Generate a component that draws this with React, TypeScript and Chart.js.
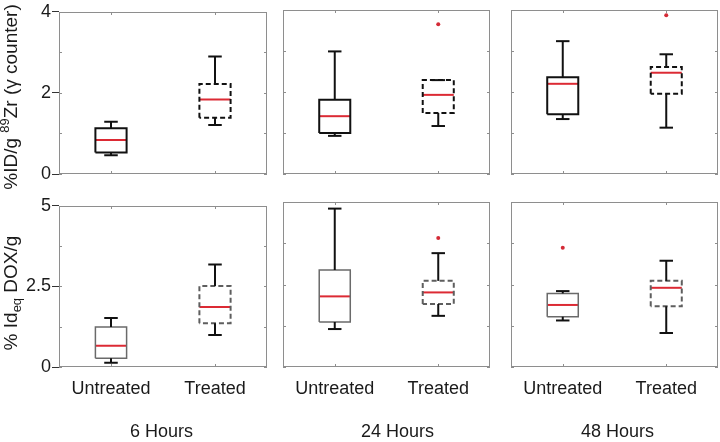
import React, { useEffect, useRef } from 'react';
import { Chart, registerables } from 'chart.js';
Chart.register(...registerables);

const categories = ['Untreated', 'Treated'];
const timepoints = ['6 Hours', '24 Hours', '48 Hours'];

// [lower whisker, Q1, median, Q3, upper whisker]
const zr6Untreated = [0.46, 0.53, 0.84, 1.13, 1.29];
const zr6Treated = [1.21, 1.39, 1.84, 2.22, 2.9];
const zr24Untreated = [0.93, 1.0, 1.41, 1.81, 2.99];
const zr24Treated = [1.17, 1.49, 1.93, 2.29, 2.29];
const zr48Untreated = [1.34, 1.46, 2.2, 2.36, 3.24];
const zr48Treated = [1.13, 1.96, 2.47, 2.61, 2.92];
const zr6Outliers: number[][] = [[], []];
const zr24Outliers: number[][] = [[], [3.65]];
const zr48Outliers: number[][] = [[], [3.87]];

const dox6Untreated = [0.13, 0.27, 0.66, 1.24, 1.52];
const dox6Treated = [0.99, 1.36, 1.86, 2.51, 3.18];
const dox24Untreated = [1.15, 1.36, 2.14, 2.94, 4.8];
const dox24Treated = [1.55, 1.91, 2.26, 2.61, 3.45];
const dox48Untreated = [1.41, 1.52, 1.88, 2.23, 2.3];
const dox48Treated = [1.03, 1.84, 2.4, 2.61, 3.22];
const dox6Outliers: number[][] = [[], []];
const dox24Outliers: number[][] = [[], [3.91]];
const dox48Outliers: number[][] = [[3.61], []];

const zrTicks = [0, 1, 2, 3, 4];
const zrTickLabels = ['0', '', '2', '', '4'];
const doxTicks = [0, 1.25, 2.5, 3.75, 5];
const doxTickLabels = ['0', '', '2.5', '', '5'];

const FONT = "'Liberation Sans', Arial, Helvetica, sans-serif";
const BOX = 0.15;
const CAP = 0.065;
const MEDIAN = '#dc2a34';

type Seg = { t: string; s: number; dy: number };

const rows = [
  {
    stats: [[zr6Untreated, zr6Treated], [zr24Untreated, zr24Treated], [zr48Untreated, zr48Treated]],
    outliers: [zr6Outliers, zr24Outliers, zr48Outliers],
    max: 4,
    ticks: zrTicks,
    labels: zrTickLabels,
    title: [
      { t: '%ID/g ', s: 19, dy: 0 },
      { t: '89', s: 13, dy: -7 },
      { t: 'Zr (γ counter)', s: 19, dy: 0 },
    ] as Seg[],
    titleY: 97,
    boxColors: ['#111111', '#111111'],
    boxWidths: [2, 2],
    canvasTop: 0,
    canvasH: 196,
    T: 10,
    B: 174,
  },
  {
    stats: [[dox6Untreated, dox6Treated], [dox24Untreated, dox24Treated], [dox48Untreated, dox48Treated]],
    outliers: [dox6Outliers, dox24Outliers, dox48Outliers],
    max: 5,
    ticks: doxTicks,
    labels: doxTickLabels,
    title: [
      { t: '% Id', s: 19, dy: 0 },
      { t: 'eq', s: 13, dy: 5 },
      { t: ' DOX/g', s: 19, dy: 0 },
    ] as Seg[],
    titleY: 293,
    boxColors: ['#6a6a6a', '#5e5e5e'],
    boxWidths: [1.5, 2],
    canvasTop: 194,
    canvasH: 248,
    T: 202,
    B: 367,
  },
];

const cols = [
  { L: 59, R: 267, dx: -1.5 },
  { L: 283, R: 490, dx: 11 },
  { L: 511, R: 718, dx: 3 },
];

function seg(data: { x: number; y: number }[], color: string, width: number, dash: number[] = []) {
  return {
    data,
    showLine: true,
    borderColor: color,
    borderWidth: width,
    borderDash: dash,
    pointRadius: 0,
    pointHoverRadius: 0,
    fill: false,
    tension: 0,
    borderJoinStyle: 'miter',
    borderCapStyle: 'butt',
  };
}

function boxDatasets(stats: number[], xi: number, color: string, width: number, dashed: boolean) {
  const [lo, q1, med, q3, hi] = stats;
  const x = xi + 1;
  const dash = dashed ? [5, 3] : [];
  return [
    seg([{ x, y: q3 }, { x, y: hi }], '#111111', 2),
    seg([{ x: x - CAP, y: hi }, { x: x + CAP, y: hi }], '#111111', 2),
    seg([{ x, y: q1 }, { x, y: lo }], '#111111', 2),
    seg([{ x: x - CAP, y: lo }, { x: x + CAP, y: lo }], '#111111', 2),
    seg(
      [
        { x: x - BOX, y: q1 },
        { x: x - BOX, y: q3 },
        { x: x + BOX, y: q3 },
        { x: x + BOX, y: q1 },
        { x: x - BOX, y: q1 },
      ],
      color,
      width,
      dash
    ),
    seg([{ x: x - BOX, y: med }, { x: x + BOX, y: med }], MEDIAN, 2),
  ];
}

const framePlugin = {
  id: 'frame',
  beforeDatasetsDraw(chart: any) {
    const { ctx, chartArea, scales } = chart;
    const left = Math.round(chartArea.left);
    const right = Math.round(chartArea.right);
    const top = Math.round(chartArea.top);
    const bottom = Math.round(chartArea.bottom);
    ctx.save();
    ctx.strokeStyle = '#8e8e8e';
    ctx.lineWidth = 1;
    ctx.strokeRect(left + 0.5, top + 0.5, right - left - 1, bottom - top - 1);
    ctx.beginPath();
    scales.y.ticks.forEach((t: any) => {
      const py = Math.round(scales.y.getPixelForValue(t.value)) + 0.5;
      ctx.moveTo(left, py);
      ctx.lineTo(left + 3, py);
      ctx.moveTo(right, py);
      ctx.lineTo(right - 3, py);
    });
    scales.x.ticks.forEach((t: any) => {
      const px = Math.round(scales.x.getPixelForValue(t.value)) + 0.5;
      ctx.moveTo(px, top);
      ctx.lineTo(px, top + 3);
      ctx.moveTo(px, bottom);
      ctx.lineTo(px, bottom - 3);
    });
    ctx.stroke();
    ctx.restore();
  },
};

const yTitlePlugin = {
  id: 'yTitle',
  afterDraw(chart: any, _args: any, opts: any) {
    if (!opts || !opts.segments) return;
    const { ctx } = chart;
    const segs: Seg[] = opts.segments;
    ctx.save();
    let total = 0;
    const widths = segs.map((s) => {
      ctx.font = `${s.s}px ${FONT}`;
      const w = ctx.measureText(s.t).width;
      total += w;
      return w;
    });
    ctx.translate(opts.x, opts.y);
    ctx.rotate(-Math.PI / 2);
    ctx.fillStyle = '#1a1a1a';
    ctx.textBaseline = 'middle';
    ctx.textAlign = 'left';
    let cx = -total / 2;
    segs.forEach((s, i) => {
      ctx.font = `${s.s}px ${FONT}`;
      ctx.fillText(s.t, cx, s.dy);
      cx += widths[i];
    });
    ctx.restore();
  },
};

const groupLabelPlugin = {
  id: 'groupLabel',
  afterDraw(chart: any, _args: any, opts: any) {
    if (!opts || !opts.text) return;
    const { ctx, chartArea } = chart;
    ctx.save();
    ctx.font = `18px ${FONT}`;
    ctx.fillStyle = '#1a1a1a';
    ctx.textAlign = 'center';
    ctx.textBaseline = 'middle';
    ctx.fillText(opts.text, (chartArea.left + chartArea.right) / 2 + opts.dx, opts.y);
    ctx.restore();
  },
};

function Panel({ r, c }: { r: number; c: number }) {
  const ref = useRef<HTMLCanvasElement>(null);
  const row = rows[r];
  const col = cols[c];
  const canvasLeft = c === 0 ? 0 : col.L - 3;
  const canvasW = col.R + 3 - canvasLeft;

  useEffect(() => {
    if (!ref.current) return;
    const datasets: any[] = [];
    row.stats[c].forEach((stats, xi) => {
      datasets.push(...boxDatasets(stats, xi, row.boxColors[xi], row.boxWidths[xi], xi === 1));
    });
    row.outliers[c].forEach((vals, xi) => {
      if (vals.length) {
        datasets.push({
          data: vals.map((v) => ({ x: xi + 1, y: v })),
          showLine: false,
          pointRadius: 2,
          pointHoverRadius: 2,
          pointBackgroundColor: '#d42a36',
          pointBorderWidth: 0,
        });
      }
    });
    const isBottom = r === 1;
    const chart = new Chart(ref.current, {
      type: 'scatter',
      data: { datasets },
      plugins: [framePlugin, yTitlePlugin, groupLabelPlugin],
      options: {
        animation: false,
        responsive: false,
        events: [],
        layout: { padding: { top: row.T - row.canvasTop, right: 3, left: 0, bottom: 0 } },
        plugins: {
          legend: { display: false },
          tooltip: { enabled: false },
          yTitle: c === 0 ? { segments: row.title, x: 12, y: row.titleY - row.canvasTop } : {},
          groupLabel: isBottom ? { text: timepoints[c], dx: col.dx, y: 432 - row.canvasTop } : {},
        } as any,
        scales: {
          x: {
            type: 'linear',
            min: 0.5,
            max: 2.5,
            afterBuildTicks: (scale: any) => {
              scale.ticks = categories.map((_, i) => ({ value: i + 1 }));
            },
            afterFit: (scale: any) => {
              scale.height = row.canvasTop + row.canvasH - row.B;
            },
            grid: { display: false, drawTicks: false },
            border: { display: false },
            ticks: {
              display: isBottom,
              padding: 11,
              maxRotation: 0,
              autoSkip: false,
              color: '#1a1a1a',
              font: { family: FONT, size: 18 },
              callback: (v: any) => categories[Math.round(Number(v)) - 1] ?? '',
            },
          },
          y: {
            type: 'linear',
            min: 0,
            max: row.max,
            afterBuildTicks: (scale: any) => {
              scale.ticks = row.ticks.map((v) => ({ value: v }));
            },
            afterFit: (scale: any) => {
              scale.width = c === 0 ? col.L : 3;
            },
            grid: {
              display: c === 0,
              drawOnChartArea: false,
              drawTicks: c === 0,
              tickLength: 7,
              tickWidth: 1,
              color: 'rgba(0,0,0,0)',
              tickColor: (ctx: any) => {
                const i = row.ticks.indexOf(ctx.tick?.value);
                return i >= 0 && row.labels[i] ? '#333333' : 'rgba(0,0,0,0)';
              },
            },
            border: { display: false },
            ticks: {
              display: c === 0,
              padding: 1,
              color: '#1a1a1a',
              font: { family: FONT, size: 18 },
              callback: (v: any, i: number) => row.labels[i] ?? '',
            },
          },
        },
      } as any,
    });
    return () => chart.destroy();
  }, []);

  return (
    <canvas
      ref={ref}
      width={canvasW}
      height={row.canvasH}
      style={{
        position: 'absolute',
        left: canvasLeft,
        top: row.canvasTop,
        width: canvasW,
        height: row.canvasH,
      }}
    />
  );
}

export default function App() {
  return (
    <div
      style={{
        position: 'absolute',
        left: 0,
        top: 0,
        width: 720,
        height: 442,
        background: '#ffffff',
        overflow: 'hidden',
      }}
    >
      {[0, 1].map((r) => [0, 1, 2].map((c) => <Panel key={`${r}-${c}`} r={r} c={c} />))}
    </div>
  );
}
